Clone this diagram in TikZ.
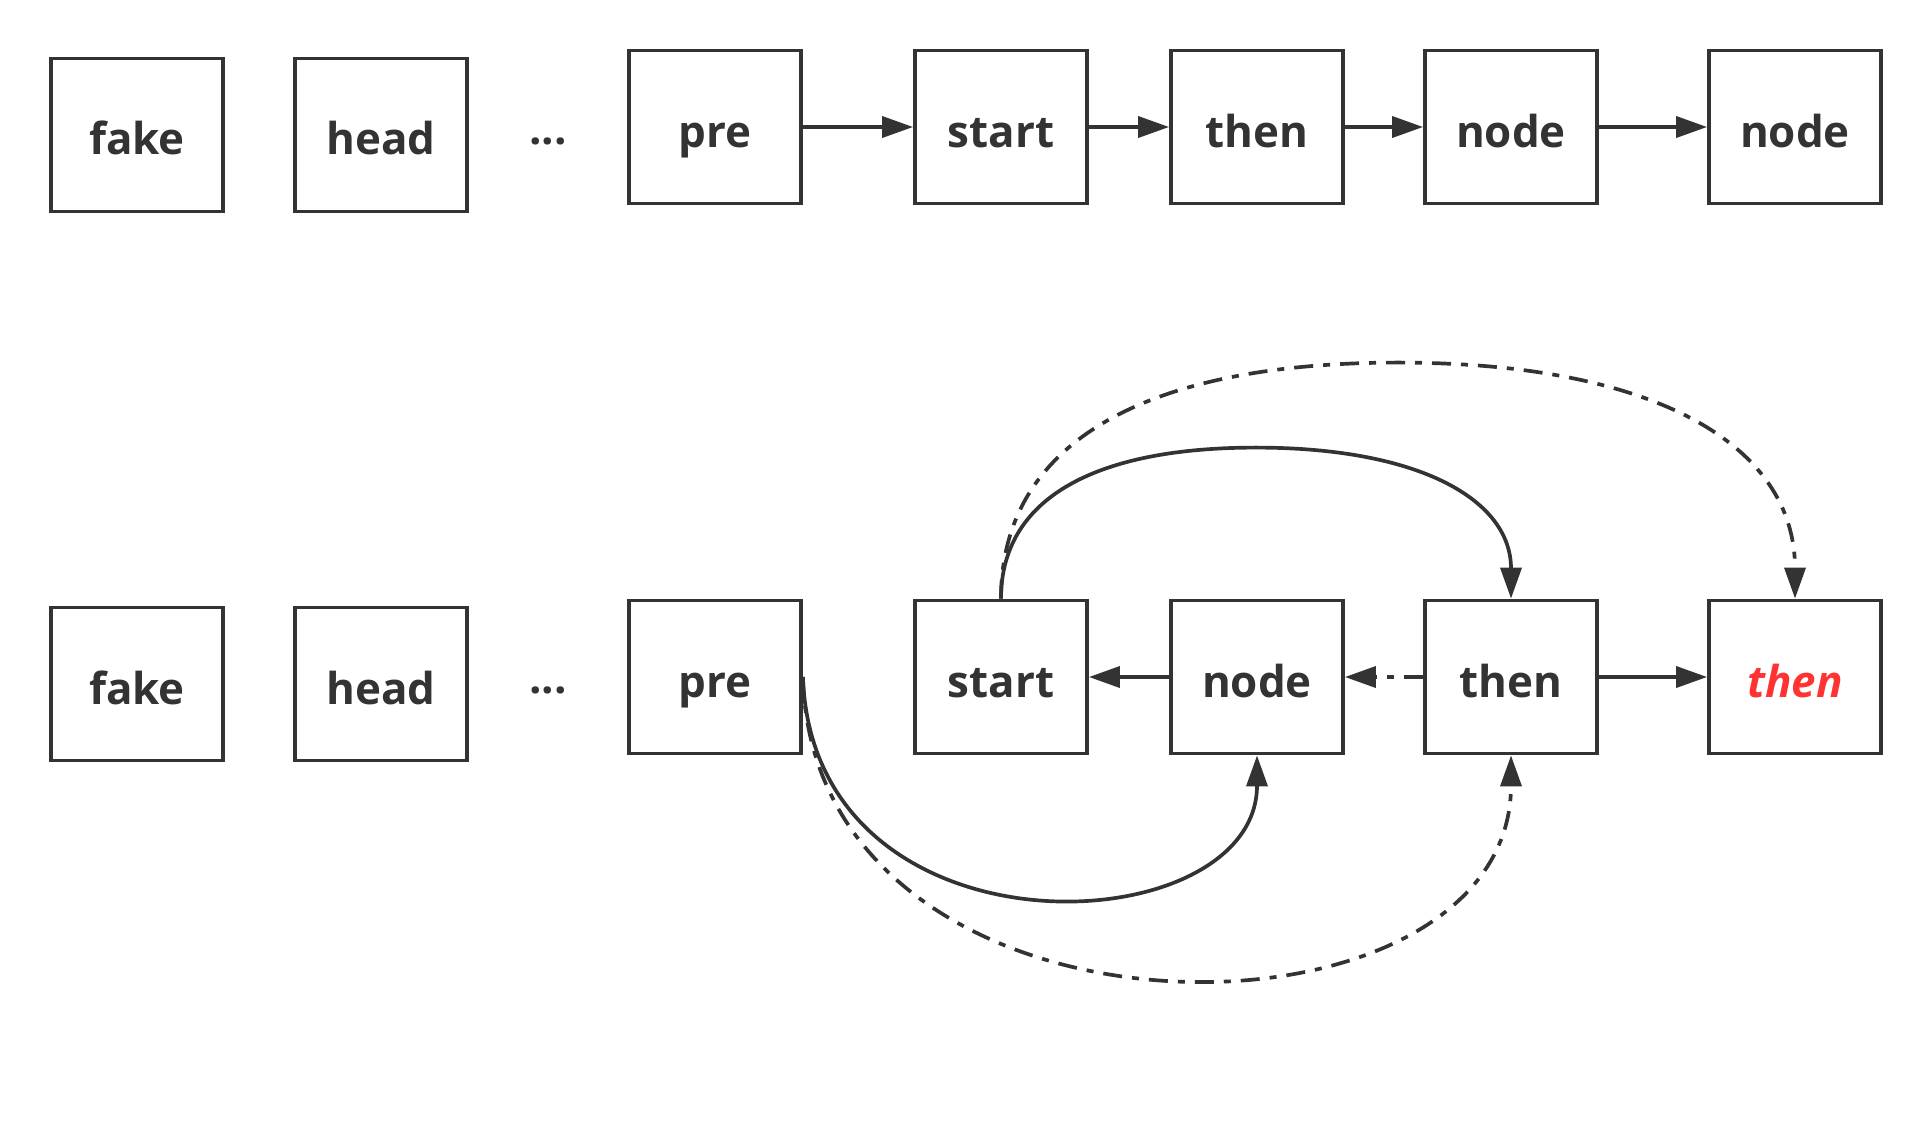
\documentclass[tikz,border=0pt]{standalone}
\usepackage{fontspec}
\setmainfont{Open Sans}
\usetikzlibrary{arrows.meta,calc}
\definecolor{ink}{HTML}{333333}
\definecolor{redtxt}{HTML}{FF3333}
\begin{document}
\begin{tikzpicture}[x=0.02cm,y=-0.02cm,
  box/.style={draw=ink, line width=2.2pt, minimum width=3.44cm, minimum height=3.06cm,
    inner sep=0pt, text=ink, font=\fontsize{25}{30}\selectfont\bfseries,
    text height=0.8cm, text depth=0pt},
  dotlabel/.style={anchor=base, inner sep=0pt, text=ink, font=\fontsize{25}{30}\selectfont\bfseries},
  conn/.style={draw=ink, line width=2.1pt, -{Triangle[length=0.62cm,width=0.42cm]}},
  dd/.style={dash pattern=on 0.38cm off 0.2cm on 0.14cm off 0.2cm}
]
\useasboundingbox (0,0) rectangle (1932,1143);

% row 1
\node[box] (fakeA) at (137,135) {fake};
\node[box] (headA) at (381,135) {head};
\node[dotlabel] (dotsA) at (548,144) {...};
\node[box] (preA) at (715,127) {pre};
\node[box] (startA) at (1001,127) {start};
\node[box] (thenA) at (1257,127) {then};
\node[box] (nodeA) at (1511,127) {node};
\node[box] (nodeB) at (1795,127) {node};

\draw[conn] (preA) -- (startA);
\draw[conn] (startA) -- (thenA);
\draw[conn] (thenA) -- (nodeA);
\draw[conn] (nodeA) -- (nodeB);

% row 2
\node[box] (fakeC) at (137,684) {fake};
\node[box] (headC) at (381,684) {head};
\node[dotlabel] (dotsC) at (548,693) {...};
\node[box] (preC) at (715,677) {pre};
\node[box] (startC) at (1001,677) {start};
\node[box] (nodeC) at (1257,677) {node};
\node[box] (thenC) at (1511,677) {then};
\node[box, text=redtxt, font=\fontsize{25}{30}\selectfont\bfseries\itshape] (thenD) at (1795,677) {then};

\draw[conn] (nodeC) -- (startC);
\draw[conn,dd] (thenC) -- (nodeC);
\draw[conn] (thenC) -- (thenD);

\draw[conn] (startC.north) .. controls +(0,-98) and +(-165,0) ..
  ($(startC.north)!0.5!(thenC.north)+(0,-151)$) .. controls +(165,0) and +(0,-98) .. (thenC.north);
\draw[conn,dd] (startC.north) .. controls +(0,-153) and +(-258,0) ..
  ($(startC.north)!0.5!(thenD.north)+(0,-236)$) .. controls +(258,0) and +(0,-153) .. (thenD.north);

\draw[conn] (preC.east) .. controls +(10,290) and +(0,190) .. (nodeC.south);
\draw[conn,dd] (preC.east) .. controls +(10,390) and +(0,305) .. (thenC.south);
\end{tikzpicture}
\end{document}
